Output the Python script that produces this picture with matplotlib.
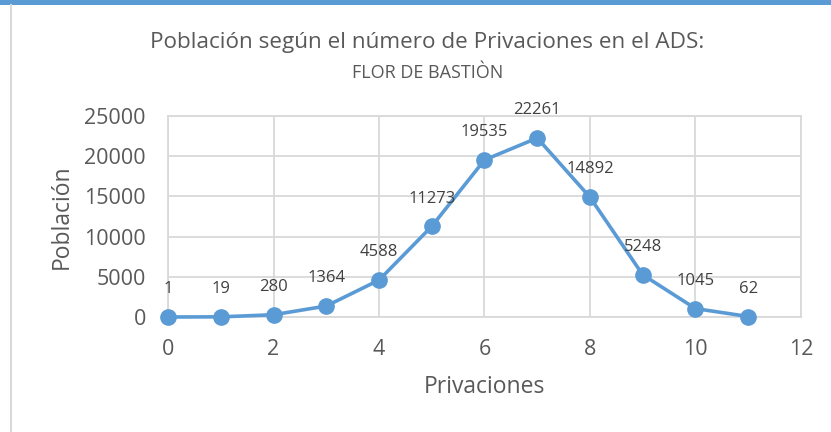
import matplotlib.pyplot as plt
from matplotlib.lines import Line2D
from matplotlib.patches import Rectangle

privaciones = [0, 1, 2, 3, 4, 5, 6, 7, 8, 9, 10, 11]
poblacion = [1, 19, 280, 1364, 4588, 11273, 19535, 22261, 14892, 5248, 1045, 62]
x_ticks = [0, 2, 4, 6, 8, 10, 12]
y_ticks = [0, 5000, 10000, 15000, 20000, 25000]

titulo = "Población según el número de Privaciones en el ADS:"
subtitulo = "FLOR DE BASTIÒN"

plt.rcParams['font.family'] = ['Open Sans', 'DejaVu Sans']
gris = '#595959'
rejilla = '#D9D9D9'
azul = '#5B9BD5'

fig = plt.figure(figsize=(8.31, 4.32), dpi=100)
ax = fig.add_axes([168/831, 1 - 317/432, (801 - 168)/831, (317 - 116)/432])

ax.plot(privaciones, poblacion, color=azul, lw=2.6, marker='o', ms=11,
        clip_on=False, zorder=3)
for x, y in zip(privaciones, poblacion):
    ax.annotate(str(y), (x, y), xytext=(0, 20), textcoords='offset points',
                ha='center', va='center', fontsize=12, color='#404040')

ax.set_xlim(0, 12)
ax.set_ylim(0, 25000)
ax.set_xticks(x_ticks)
ax.set_yticks(y_ticks)
ax.grid(True, color=rejilla, lw=1.3)
ax.set_axisbelow(True)
for s in ax.spines.values():
    s.set_color(rejilla)
    s.set_linewidth(1.3)
ax.tick_params(length=0, labelsize=15.5, colors=gris)
ax.tick_params(axis='x', pad=16)
ax.tick_params(axis='y', pad=16)
ax.set_xlabel("Privaciones", fontsize=16.5, color=gris, va='center')
ax.set_ylabel("Población", fontsize=16.5, color=gris, va='center')
ax.xaxis.set_label_coords(0.5, (317 - 387) / 201)
ax.yaxis.set_label_coords((62 - 168) / 633, 0.5)

fig.text(427/831, 1 - 48/432, titulo, ha='center', va='baseline', fontsize=16.2, color=gris)
fig.text(428/831, 1 - 77.5/432, subtitulo, ha='center', va='baseline', fontsize=13, color=gris)

# marco del gráfico
fig.add_artist(Rectangle((0, 1 - 5/432), 1, 5/432, transform=fig.transFigure,
                         color=azul, lw=0))
fig.add_artist(Line2D([11/831, 11/831], [0, 1 - 5/432], transform=fig.transFigure,
                      color=rejilla, lw=1.5))

fig.savefig('out.png', dpi=100)
